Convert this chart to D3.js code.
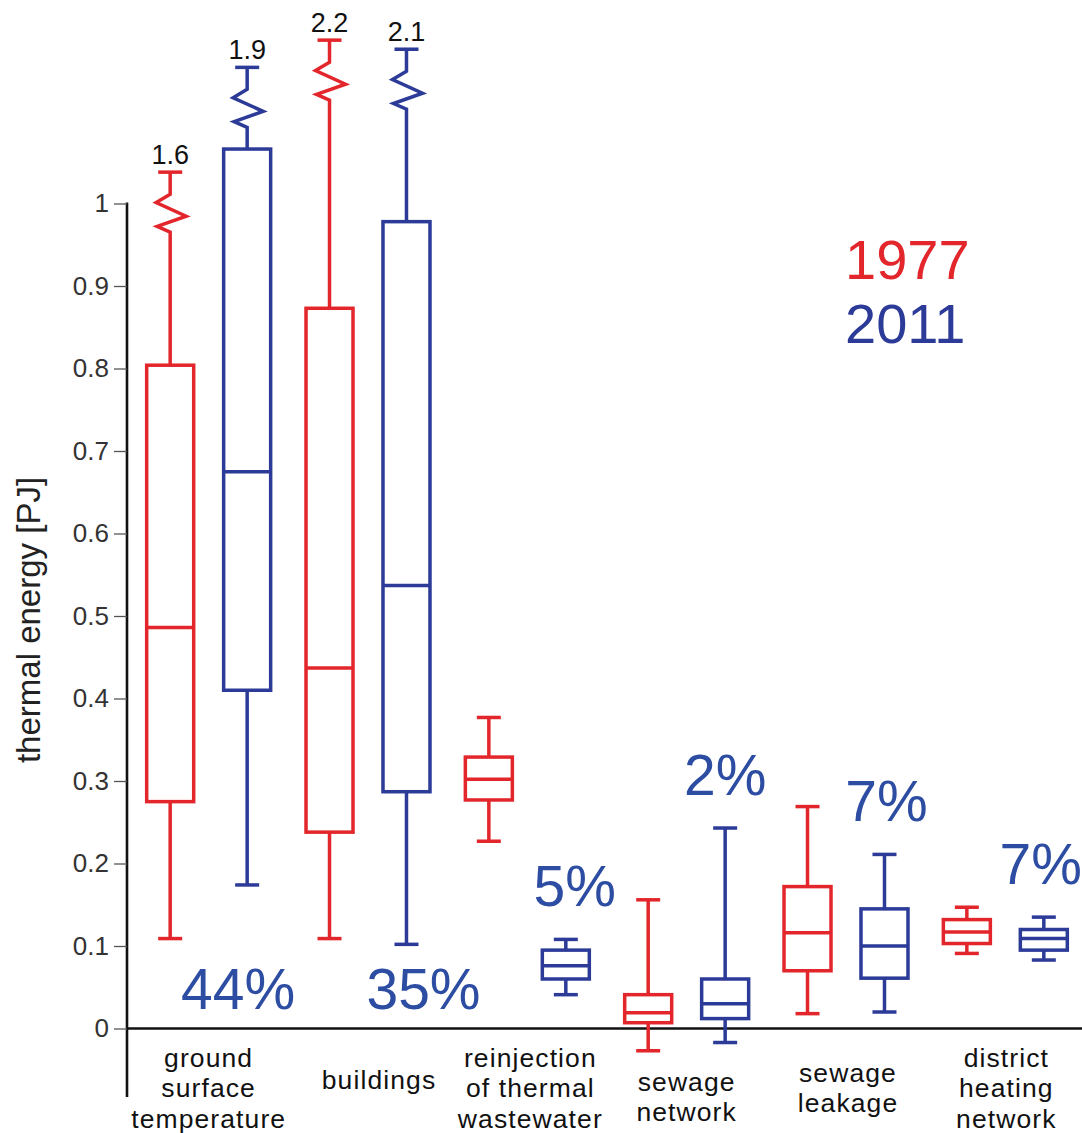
<!DOCTYPE html>
<html>
<head>
<meta charset="utf-8">
<script src="https://cdn.jsdelivr.net/npm/d3@7"></script>
<style>
  html, body { margin: 0; padding: 0; background: #fff; }
  svg { display: block; font-family: "Liberation Sans", Arial, Helvetica, sans-serif; }
</style>
</head>
<body>
<svg id="chart" width="1082" height="1133"></svg>
<script>
// Categories of thermal energy input and their label lines
const categories = [
  "ground surface temperature", "buildings", "reinjection of thermal wastewater",
  "sewage network", "sewage leakage", "district heating network"
];
const categoryLines = [
  ["ground", "surface", "temperature"],
  ["buildings"],
  ["reinjection", "of thermal", "wastewater"],
  ["sewage", "network"],
  ["sewage", "leakage"],
  ["district", "heating", "network"]
];
const years = ["1977", "2011"];

// Box statistics per year [PJ]
const low1977  = [0.109, 0.109, 0.227, -0.027, 0.018, 0.091];
const q1_1977  = [0.275, 0.238, 0.277,  0.007, 0.070, 0.103];
const med1977  = [0.486, 0.437, 0.302,  0.019, 0.116, 0.117];
const q3_1977  = [0.804, 0.873, 0.329,  0.041, 0.172, 0.132];
const high1977 = [1.6,   2.2,   0.377,  0.156, 0.269, 0.147];

const low2011  = [0.174, 0.102, 0.041, -0.017, 0.020, 0.083];
const q1_2011  = [0.410, 0.287, 0.060,  0.012, 0.061, 0.095];
const med2011  = [0.675, 0.537, 0.076,  0.030, 0.100, 0.109];
const q3_2011  = [1.066, 0.978, 0.095,  0.060, 0.145, 0.120];
const high2011 = [1.9,   2.1,   0.108,  0.243, 0.211, 0.135];

// Share of each source in 2011 [%]
const share2011 = [44, 35, 5, 2, 7, 7];

// Y axis tick values
const yTicks = [0, 0.1, 0.2, 0.3, 0.4, 0.5, 0.6, 0.7, 0.8, 0.9, 1];

const colors = { "1977": "#e2262b", "2011": "#2c3a98" };
const shareColor = "#2d4da3";

// Small horizontal/vertical nudges for the text annotations (layout only)
const shareDx = [-9, 17, 9, 0, 2, -3];
const labelDx = [0, 11, 3, 0, 2, 1];
const labelDy = [0, -8, 0, 9, 0, 0];

const svg = d3.select("#chart");

const y = d3.scaleLinear().domain([0, 1]).range([1028.5, 203.5]);
// Broken-axis segment: whisker ends far above the axis are compressed
const breakThreshold = 1.3;
const breakScale = d3.scaleLinear().domain([1.6, 1.9, 2.2]).range([1.038, 1.165, 1.198]);
const yPos = v => v > breakThreshold ? y(breakScale(v)) : y(v);

const x = d3.scaleBand().domain(categories).range([129, 1085]).padding(0);
const xSub = d3.scaleBand().domain(years).range([0, x.bandwidth()]).paddingOuter(0.035).paddingInner(0);

const boxW = 47, capW = 24, lw = 3.5;

// Axes
const axisX = 127;
svg.append("line")
  .attr("x1", axisX).attr("x2", axisX)
  .attr("y1", y(1) - 1).attr("y2", 1097)
  .attr("stroke", "#111").attr("stroke-width", 2.6);
svg.append("line")
  .attr("x1", axisX).attr("x2", 1082)
  .attr("y1", y(0)).attr("y2", y(0))
  .attr("stroke", "#111").attr("stroke-width", 2.6);

const yAxis = d3.axisLeft(y).tickValues(yTicks).tickFormat(d3.format("~g")).tickSize(13).tickPadding(5);
const gy = svg.append("g").attr("transform", `translate(${axisX},0)`).call(yAxis);
gy.select(".domain").remove();
gy.selectAll(".tick line").attr("stroke", "#555").attr("stroke-width", 1.3);
gy.selectAll(".tick text")
  .attr("font-size", 26).attr("fill", "#333")
  .attr("font-family", "'Liberation Sans', Arial, sans-serif");

svg.append("text")
  .attr("transform", `translate(40,${620}) rotate(-90)`)
  .attr("text-anchor", "middle")
  .attr("font-size", 33).attr("fill", "#222")
  .text("thermal energy [PJ]");

// Box data
const series = {
  "1977": { low: low1977, q1: q1_1977, med: med1977, q3: q3_1977, high: high1977 },
  "2011": { low: low2011, q1: q1_2011, med: med2011, q3: q3_2011, high: high2011 }
};
const boxes = [];
categories.forEach((c, i) => {
  years.forEach(yr => {
    const s = series[yr];
    boxes.push({
      cat: c, year: yr,
      low: s.low[i], q1: s.q1[i], med: s.med[i], q3: s.q3[i], high: s.high[i],
      cx: x(c) + xSub(yr) + xSub.bandwidth() / 2
    });
  });
});

// Zigzag break in a whisker (relative x offsets, fraction of height)
const zig = [[0, 0], [-14, 0.22], [16, 0.58], [-13, 0.85], [0, 1]];
const zigGap = 22, zigH = 38;

const g = svg.append("g");
boxes.forEach(b => {
  const col = colors[b.year];
  const gb = g.append("g").attr("stroke", col).attr("stroke-width", lw).attr("fill", "none");
  const yHigh = yPos(b.high);
  if (b.high > breakThreshold) {
    const z0 = yHigh + zigGap;
    const pts = [[b.cx, yHigh], [b.cx, z0]]
      .concat(zig.map(p => [b.cx + p[0], z0 + p[1] * zigH]))
      .concat([[b.cx, y(b.q3)]]);
    gb.append("path").attr("d", d3.line()(pts)).attr("stroke-linejoin", "miter");
    svg.append("text")
      .attr("x", b.cx).attr("y", yHigh - 8)
      .attr("text-anchor", "middle")
      .attr("font-size", 27).attr("fill", "#111")
      .text(d3.format(".1f")(b.high));
  } else {
    gb.append("line").attr("x1", b.cx).attr("x2", b.cx).attr("y1", yHigh).attr("y2", y(b.q3));
  }
  // upper cap
  gb.append("line").attr("x1", b.cx - capW / 2).attr("x2", b.cx + capW / 2).attr("y1", yHigh).attr("y2", yHigh);
  // lower whisker and cap
  gb.append("line").attr("x1", b.cx).attr("x2", b.cx).attr("y1", y(b.q1)).attr("y2", y(b.low));
  gb.append("line").attr("x1", b.cx - capW / 2).attr("x2", b.cx + capW / 2).attr("y1", y(b.low)).attr("y2", y(b.low));
  // box
  gb.append("rect")
    .attr("x", b.cx - boxW / 2).attr("width", boxW)
    .attr("y", y(b.q3)).attr("height", y(b.q1) - y(b.q3))
    .attr("fill", "#fff");
  // median
  gb.append("line").attr("x1", b.cx - boxW / 2).attr("x2", b.cx + boxW / 2).attr("y1", y(b.med)).attr("y2", y(b.med));
});

// 2011 shares
categories.forEach((c, i) => {
  const b = boxes.find(d => d.cat === c && d.year === "2011");
  const broken = b.high > breakThreshold;
  svg.append("text")
    .attr("x", b.cx + shareDx[i])
    .attr("y", broken ? y(0) - 20 : yPos(b.high) - 33)
    .attr("text-anchor", "middle")
    .attr("font-size", 57).attr("fill", shareColor)
    .text(share2011[i] + "%");
});

// Category labels below the zero line
const lineH = 30.5, labelMid = 1097;
categories.forEach((c, i) => {
  const lines = categoryLines[i];
  const t = svg.append("text")
    .attr("text-anchor", "middle")
    .attr("font-size", 26.5).attr("letter-spacing", 1.1).attr("fill", "#111");
  lines.forEach((ln, k) => {
    t.append("tspan")
      .attr("x", x(c) + x.bandwidth() / 2 + labelDx[i])
      .attr("y", labelMid + labelDy[i] + (k - (lines.length - 1) / 2) * lineH)
      .text(ln);
  });
});

// Legend
years.forEach((yr, k) => {
  svg.append("text")
    .attr("x", 845).attr("y", 279 + k * 64)
    .attr("font-size", 56).attr("fill", colors[yr])
    .text(yr);
});
</script>
</body>
</html>
